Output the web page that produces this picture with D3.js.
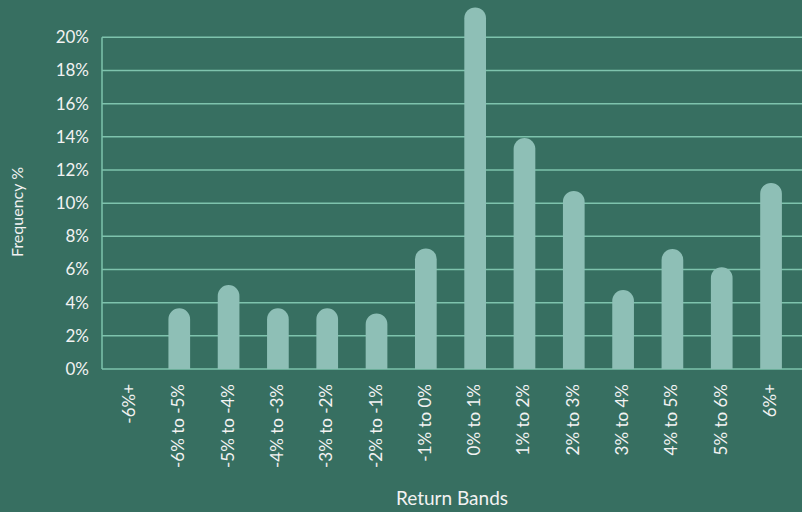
<!DOCTYPE html>
<html>
<head>
<meta charset="utf-8">
<script src="https://cdn.jsdelivr.net/npm/d3@7"></script>
<style>
  html, body { margin: 0; padding: 0; background: #376f61; }
  svg { display: block; }
  text { font-family: Lato, "Open Sans", sans-serif; fill: #f2f2f2; }
</style>
</head>
<body>
<svg id="chart" width="802" height="512"></svg>
<script>
const categories = ["-6%+", "-6% to -5%", "-5% to -4%", "-4% to -3%", "-3% to -2%", "-2% to -1%", "-1% to 0%", "0% to 1%", "1% to 2%", "2% to 3%", "3% to 4%", "4% to 5%", "5% to 6%", "6%+"];
const frequency = [0, 3.66, 5.06, 3.66, 3.66, 3.35, 7.27, 21.8, 13.93, 10.74, 4.76, 7.23, 6.14, 11.22];
const yTicks = [0, 2, 4, 6, 8, 10, 12, 14, 16, 18, 20];

const svg = d3.select("#chart");
const left = 102, right = 802, top0 = 37.3, bottom = 369;

const x = d3.scaleBand().domain(categories).range([105.3, 795.7]).paddingInner(0.56).paddingOuter(0.28);
const y = d3.scaleLinear().domain([0, 20]).range([bottom, top0]);

const gridColor = "#7ec3ad";

// gridlines
svg.append("g").selectAll("line").data(yTicks).join("line")
  .attr("x1", left).attr("x2", right)
  .attr("y1", d => y(d)).attr("y2", d => y(d))
  .attr("stroke", gridColor).attr("stroke-width", 1.5);

// left axis line
svg.append("line").attr("x1", left).attr("x2", left)
  .attr("y1", y(20)).attr("y2", y(0))
  .attr("stroke", gridColor).attr("stroke-width", 1.5);

// y tick labels
svg.append("g").selectAll("text").data(yTicks).join("text")
  .attr("x", 89).attr("y", d => y(d)).attr("dy", "0.35em")
  .attr("text-anchor", "end").style("font-size", "17px")
  .text(d => d + "%");

// bars with rounded tops
const bw = x.bandwidth();
const r = bw / 2;
svg.append("g").selectAll("path").data(categories.map((c, i) => ({c, v: frequency[i]})).filter(d => d.v > 0)).join("path")
  .attr("fill", "#8ebfb6")
  .attr("d", d => {
    const x0 = x(d.c), x1 = x0 + bw;
    const yt = y(d.v), yb = y(0);
    return `M${x0},${yb} L${x0},${yt + r} A${r},${r} 0 0 1 ${x1},${yt + r} L${x1},${yb} Z`;
  });

// x labels
svg.append("g").selectAll("text").data(categories).join("text")
  .attr("transform", d => `translate(${x(d) + bw / 2 + 5},${384}) rotate(-90)`)
  .attr("text-anchor", "end").style("font-size", "17px")
  .text(d => d);

// axis titles
svg.append("text").attr("x", (left + right) / 2).attr("y", 505)
  .attr("text-anchor", "middle").style("font-size", "19px").text("Return Bands");
svg.append("text").attr("transform", `translate(23,212) rotate(-90)`)
  .attr("text-anchor", "middle").style("font-size", "16px").text("Frequency %");
</script>
</body>
</html>
